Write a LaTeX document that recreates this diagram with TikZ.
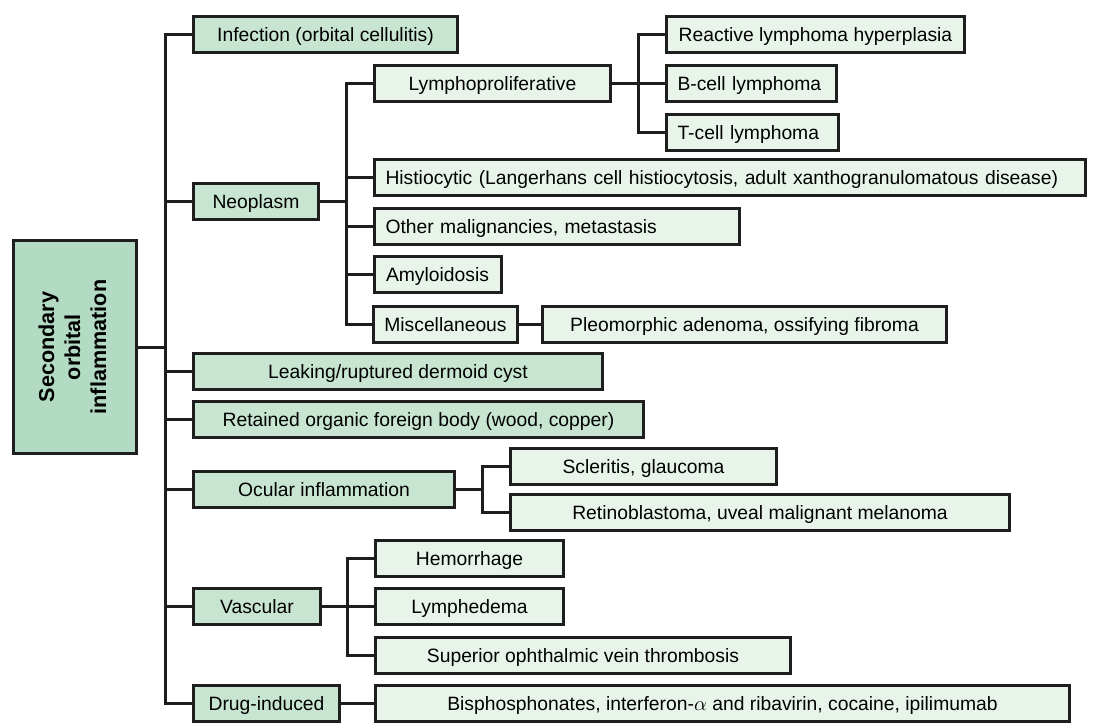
\documentclass[tikz,border=0pt]{standalone}
\usepackage{fontspec}
\setmainfont{Liberation Sans}
\definecolor{rootgreen}{RGB}{179,219,196}
\definecolor{catgreen}{RGB}{200,229,210}
\definecolor{leafgreen}{RGB}{232,244,234}
\definecolor{linegray}{RGB}{30,30,30}
\tikzset{box/.style={draw=linegray,line width=1.5pt,minimum height=18pt,inner xsep=5.5pt,inner ysep=0pt,font=\fontsize{9.65}{11.5}\selectfont,text height=0.716em,text depth=0pt}}
\tikzset{rootbox/.style={draw=linegray,line width=1.5pt,fill=rootgreen,minimum width=61.5pt,minimum height=106.5pt,inner sep=0pt,font=\fontsize{10.8}{13}\selectfont\bfseries}}
\tikzset{catbox/.style={box,fill=catgreen}}
\tikzset{leafbox/.style={box,fill=leafgreen}}
\tikzset{leftleaf/.style={leafbox,text width=#1,align=left}}
\tikzset{link/.style={draw=linegray,line width=1.5pt}}

\begin{document}
\begin{tikzpicture}[x=0.5pt,y=-0.5pt]
\useasboundingbox (0,0) rectangle (1094,725);

% root
\node[rootbox] (root) at (75,347) {\rotatebox{90}{\begin{tabular}{@{}c@{}}Secondary\\orbital\\inflammation\end{tabular}}};

% first level
\node[catbox,minimum width=132pt] (inf) at (325.5,34.5) {Infection (orbital cellulitis)};
\node[catbox,minimum width=62.5pt] (neo) at (256,201.5) {Neoplasm};
\node[catbox,minimum width=204.5pt] (leak) at (398,371) {Leaking/ruptured dermoid cyst};
\node[catbox,minimum width=225pt] (ret) at (418.5,419) {Retained organic foreign body (wood, copper)};
\node[catbox,minimum width=130.5pt] (ocu) at (324,489) {Ocular inflammation};
\node[catbox,minimum width=63.5pt] (vas) at (257,606.5) {Vascular};
\node[catbox,minimum width=73pt] (drug) at (266.5,703) {Drug-induced};

% neoplasm
\node[leafbox,minimum width=118pt] (lym) at (492.5,83.5) {Lymphoproliferative};
\node[leftleaf=344.5pt] (his) at (730,177.5) {Histiocytic (Langerhans cell histiocytosis, adult xanthogranulomatous disease)};
\node[leftleaf=171.5pt] (oth) at (557,226) {Other malignancies, metastasis};
\node[leafbox,minimum width=63.5pt] (amy) at (437.5,274.5) {Amyloidosis};
\node[leafbox,minimum width=71pt] (misc) at (445.5,324) {Miscellaneous};
\node[leafbox,minimum width=202pt] (pleo) at (744.5,324) {Pleomorphic adenoma, ossifying fibroma};

% lymphoproliferative
\node[leafbox,minimum width=149pt] (rea) at (815.5,34.5) {Reactive lymphoma hyperplasia};
\node[leftleaf=74pt] (bce) at (751.5,83.5) {B-cell lymphoma};
\node[leftleaf=75pt] (tce) at (752.5,132.5) {T-cell lymphoma};

% ocular
\node[leafbox,minimum width=133pt] (scl) at (643.5,466) {Scleritis, glaucoma};
\node[leafbox,minimum width=249.5pt] (rtb) at (760,512) {Retinoblastoma, uveal malignant melanoma};

% vascular and drugs
\node[leafbox,minimum width=94pt] (hem) at (469.5,558.5) {Hemorrhage};
\node[leafbox,minimum width=94pt] (lyd) at (469.5,606.5) {Lymphedema};
\node[leafbox,minimum width=207.5pt] (sup) at (583,655.5) {Superior ophthalmic vein thrombosis};
\node[leafbox,minimum width=347pt] (bis) at (722.5,703) {Bisphosphonates, interferon-$\alpha$ and ribavirin, cocaine, ipilimumab};

% connectors
\coordinate (trunk) at (165,347);
\draw[link] (root.east) -- (trunk);
\foreach \n in {inf,neo,leak,ret,ocu,vas,drug}
  \draw[link] (\n.west) -| (trunk);

\coordinate (neoJ) at (346,201.5);
\draw[link] (neo.east) -- (neoJ);
\foreach \n in {lym,his,oth,amy,misc}
  \draw[link] (\n.west) -| (neoJ);
\draw[link] (misc) -- (pleo);

\coordinate (lymJ) at (638,83.5);
\draw[link] (lym.east) -- (bce.west);
\foreach \n in {rea,tce}
  \draw[link] (\n.west) -| (lymJ);

\coordinate (ocuJ) at (482,489);
\draw[link] (ocu.east) -- (ocuJ);
\foreach \n in {scl,rtb}
  \draw[link] (\n.west) -| (ocuJ);

\coordinate (vasJ) at (347,606.5);
\draw[link] (vas.east) -- (lyd.west);
\foreach \n in {hem,sup}
  \draw[link] (\n.west) -| (vasJ);
\draw[link] (drug) -- (bis);
\end{tikzpicture}
\end{document}
